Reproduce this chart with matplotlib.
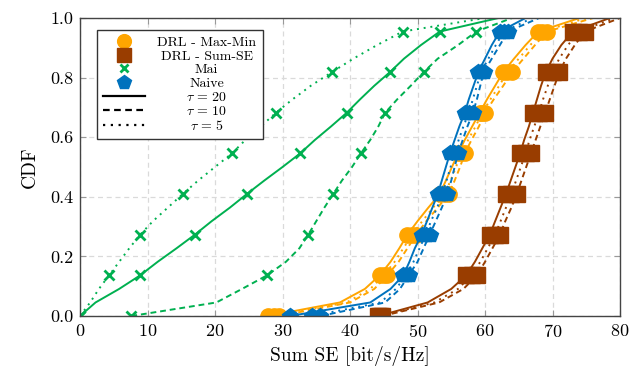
import numpy as np
import matplotlib
matplotlib.use("Agg")
import matplotlib.pyplot as plt
from matplotlib.lines import Line2D

plt.rcParams['font.family'] = 'serif'
plt.rcParams['font.serif'] = ['cmr10']
plt.rcParams['mathtext.fontset'] = 'cm'
plt.rcParams['axes.formatter.use_mathtext'] = True

# CDF levels k/22, k = 0..22
cdf = np.arange(23) / 22

# Sum SE [bit/s/Hz] at each CDF level
maxmin_t20 = [27.8, 38.5, 42.2, 44.4, 46.0, 47.3, 48.5, 50.0, 51.6, 53.3, 54.2, 55.1,
              56.0, 57.0, 58.1, 59.2, 60.3, 61.5, 62.7, 64.3, 66.0, 67.9, 74.0]
maxmin_t10 = [29.5, 40.0, 43.6, 45.5, 47.2, 48.5, 49.8, 51.3, 53.0, 54.6, 55.5, 56.3,
              57.0, 58.0, 59.1, 60.0, 61.3, 62.7, 64.0, 65.7, 67.4, 69.2, 76.0]
maxmin_t5 = [28.8, 39.5, 43.0, 45.0, 46.6, 47.9, 49.2, 50.7, 52.3, 54.0, 54.9, 55.7,
             56.5, 57.5, 58.6, 59.6, 60.8, 62.1, 63.3, 65.0, 66.7, 68.5, 75.0]

sumse_t20 = [44.2, 51.5, 55.0, 57.2, 58.5, 59.6, 60.7, 61.5, 62.3, 63.1, 63.8, 64.5,
             65.2, 65.8, 66.5, 67.1, 67.7, 68.3, 69.0, 70.0, 71.3, 73.0, 78.5]
sumse_t10 = [44.8, 53.2, 56.8, 58.8, 60.0, 61.1, 62.2, 63.0, 63.9, 64.7, 65.4, 66.1,
             66.8, 67.5, 68.2, 68.9, 69.6, 70.3, 71.0, 72.0, 73.3, 74.8, 80.0]
sumse_t5 = [44.5, 52.5, 56.0, 58.0, 59.3, 60.4, 61.5, 62.3, 63.1, 63.9, 64.6, 65.3,
            66.0, 66.6, 67.3, 68.0, 68.6, 69.3, 70.0, 71.0, 72.3, 73.9, 79.2]

mai_t20 = [0.0, 2.3, 5.8, 8.9, 11.5, 14.3, 17.0, 19.5, 22.2, 24.7, 27.3, 30.0,
           32.6, 34.8, 37.2, 39.5, 41.5, 43.6, 45.9, 48.0, 50.5, 53.3, 62.0]
mai_t10 = [7.6, 20.2, 24.0, 27.7, 30.5, 32.5, 33.8, 35.0, 36.2, 37.5, 38.8, 40.3,
           41.6, 43.0, 44.2, 45.2, 47.0, 49.0, 50.9, 53.0, 56.0, 58.7, 64.0]
mai_t5 = [0.0, 1.5, 2.8, 4.3, 5.8, 7.3, 8.9, 10.8, 13.0, 15.2, 17.5, 20.0,
          22.5, 24.5, 26.8, 29.0, 31.5, 34.2, 37.3, 40.5, 44.0, 47.8, 60.0]

naive_t20 = [31.1, 43.0, 46.0, 47.9, 48.8, 49.6, 50.6, 51.4, 52.2, 53.0, 53.6, 54.2,
             54.8, 55.5, 56.2, 57.0, 57.6, 58.3, 59.0, 60.0, 61.0, 62.2, 66.0]
naive_t10 = [35.6, 45.2, 47.4, 48.7, 50.0, 50.9, 51.8, 52.7, 53.6, 54.4, 55.0, 55.5,
             56.0, 56.7, 57.4, 58.2, 58.8, 59.3, 59.8, 61.0, 62.2, 63.4, 68.0]
naive_t5 = [34.3, 44.5, 46.8, 48.3, 49.4, 50.3, 51.2, 52.0, 52.9, 53.7, 54.3, 54.9,
            55.4, 56.1, 56.8, 57.6, 58.2, 58.8, 59.4, 60.5, 61.6, 62.8, 67.0]

methods = ['DRL - Max-Min', 'DRL - Sum-SE', 'Mai', 'Naive']
taus = [20, 10, 5]
series = {
    'DRL - Max-Min': [maxmin_t20, maxmin_t10, maxmin_t5],
    'DRL - Sum-SE': [sumse_t20, sumse_t10, sumse_t5],
    'Mai': [mai_t20, mai_t10, mai_t5],
    'Naive': [naive_t20, naive_t10, naive_t5],
}

colors = {'DRL - Max-Min': '#FFA500', 'DRL - Sum-SE': '#993D00',
          'Mai': '#00B050', 'Naive': '#0072BD'}
markers = {'DRL - Max-Min': 'o', 'DRL - Sum-SE': 's', 'Mai': 'x', 'Naive': 'p'}
msizes = {'DRL - Max-Min': 11, 'DRL - Sum-SE': 11, 'Mai': 6.5, 'Naive': 11.5}
styles = ['-', (0, (3, 2)), (0, (1, 2.5))]

fig = plt.figure(figsize=(6.33, 3.79), dpi=100)
ax = fig.add_axes([0.1264, 0.1662, 0.8531, 0.7863])

for m in methods:
    for vals, ls in zip(series[m], styles):
        ax.plot(vals, cdf, color=colors[m], lw=1.4, ls=ls,
                marker=markers[m], markevery=3, ms=msizes[m],
                mew=2 if m == 'Mai' else 1)

ax.set_xlim(0, 80)
ax.set_ylim(0, 1)
ax.set_xticks(np.arange(0, 81, 10))
ax.set_yticks(np.arange(0, 1.01, 0.2))
ax.set_yticklabels(['%.1f' % v for v in np.arange(0, 1.01, 0.2)])
ax.grid(True, ls=(0, (4, 3)), color='#dadada', lw=0.9)
ax.set_axisbelow(True)
ax.tick_params(direction='in', top=True, right=True, length=4,
               color='#999999', labelsize=13, pad=5)
for s in ax.spines.values():
    s.set_color('#444444')
    s.set_linewidth(1.0)
ax.set_xlabel('Sum SE [bit/s/Hz]', fontsize=14, labelpad=4)
ax.set_ylabel('CDF', fontsize=14, labelpad=8)

handles = [Line2D([], [], color=colors[m], marker=markers[m], ls='none',
                  ms=msizes[m] * 0.9, mew=2 if m == 'Mai' else 1) for m in methods]
handles += [Line2D([], [], color='black', lw=1.6, ls=ls) for ls in styles]
labels = methods + [r'$\tau \,=\, %d$' % t for t in taus]
leg = ax.legend(handles, labels, loc='upper left', bbox_to_anchor=(0.031, 0.96),
                fontsize=10, numpoints=1, handlelength=3.0, labelspacing=0.07,
                borderpad=0.45, handletextpad=0.9, fancybox=False,
                edgecolor='#333333', framealpha=1, borderaxespad=0)
leg.get_frame().set_linewidth(1.0)

# centre the legend labels like the original
fig.canvas.draw()
r = fig.canvas.get_renderer()
widths = [t.get_window_extent(r).width for t in leg.get_texts()]
w = max(widths)
for t, tw in zip(leg.get_texts(), widths):
    t.set_position(((w - tw) / 2, 0))

fig.savefig('out.png', dpi=100)
